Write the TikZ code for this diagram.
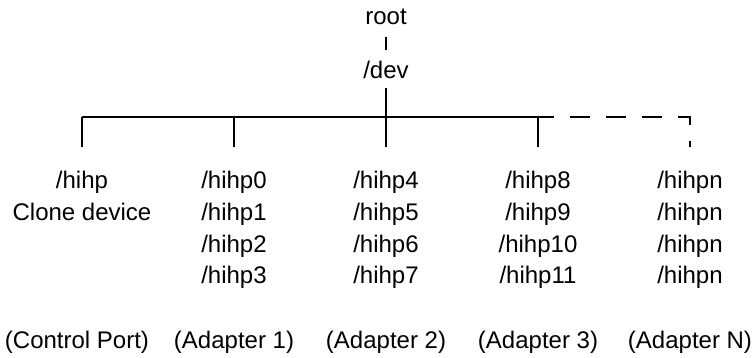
\documentclass[tikz,border=0pt]{standalone}
\usepackage{fontspec}
\setmainfont{Liberation Sans}
\usepackage{tikz}
\tikzset{
	devnode/.style = {inner sep=0pt, anchor=base, font=\fontsize{12}{14}\selectfont},
	bus/.style = {draw=black, line width=0.55pt},
	busdash/.style = {bus, dash pattern=on 10pt off 8pt, dash phase=10pt},
	tick/.style = {bus, shorten >=11.9pt}
}

\begin{document}
\begin{tikzpicture}[x=0.5pt, y=-0.5pt]
		\useasboundingbox (0,0) rectangle (756,358);
		\node [devnode] (root) at (386,25) {root};
		\node [devnode] (dev) at (386,79) {/dev};
		% taps on the bus
		\coordinate (j0) at (82,117);
		\coordinate (j1) at (234,117);
		\coordinate (j3) at (538,117);
		\coordinate (j4) at (690,117);
		\coordinate (jd) at (554,117);
		% control port
		\node [devnode] (cp0) at (82,189) {/hihp};
		\node [devnode] (cp1) at (82,220.5) {Clone device};
		% adapters 1 to 3
		\foreach \a/\x in {1/234, 2/386, 3/538} {
			\foreach \r in {0,...,3} {
				\pgfmathtruncatemacro{\n}{4*(\a-1)+\r}
				\node [devnode] (h\n) at (\x,189+31.5*\r) {/hihp\n};
			}
		}
		% adapter N
		\foreach \r in {0,...,3}
			\node [devnode] (hn\r) at (690,189+31.5*\r) {/hihpn};
		% captions
		\node [devnode] (cap0) at (77,349) {(Control Port)};
		\node [devnode] (cap1) at (234,349) {(Adapter 1)};
		\node [devnode] (cap2) at (386,349) {(Adapter 2)};
		\node [devnode] (cap3) at (538,349) {(Adapter 3)};
		\node [devnode] (capn) at (690,349) {(Adapter N)};
		% lines
		\draw [bus, shorten <=5.5pt, shorten >=5.4pt] (root) -- (dev);
		\draw [bus, shorten <=4.3pt, shorten >=11.9pt] (dev) -- (h4);
		\draw [bus] (j0) -- (jd);
		\draw [tick] (j0) -- (cp0);
		\draw [tick] (j1) -- (h0);
		\draw [tick] (j3) -- (h8);
		\draw [busdash, shorten >=11.9pt] (jd) -- (j4) -- (hn0);
\end{tikzpicture}
\end{document}
